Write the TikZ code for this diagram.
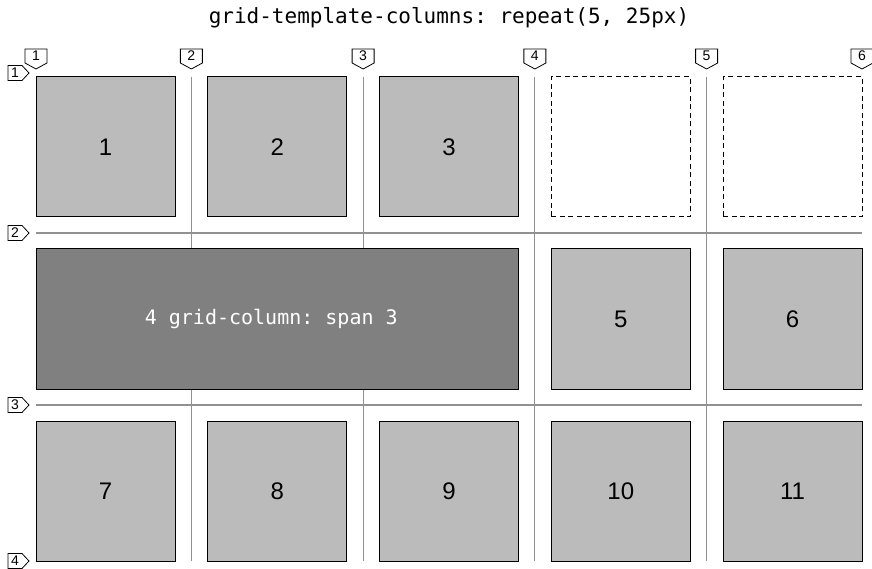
\documentclass[tikz,border=0pt]{standalone}
\usepackage{fontspec}
\setmainfont{Liberation Sans}
\setmonofont{DejaVu Sans Mono}
\usepackage{tikz}
\usetikzlibrary{
  positioning,
  calc,
  backgrounds
}
\definecolor{CellGray}{RGB}{187,187,187}
\definecolor{SpanGray}{RGB}{128,128,128}
\definecolor{LineGray}{RGB}{145,145,145}
\tikzset{
  cell/.style={draw=black,fill=CellGray,line width=1pt,minimum width=139pt,minimum height=140pt,inner sep=0pt,outer sep=0pt,font=\fontsize{24}{28}\selectfont},
  emptycell/.style={cell,fill=white,dash pattern=on 5pt off 3.5pt},
  spancell/.style={cell,fill=SpanGray,minimum width=482.5pt,text=white,font=\ttfamily\fontsize{20}{24}\selectfont},
  gridline/.style={draw=LineGray,line width=1.2pt},
  colmark/.style={minimum width=22pt,minimum height=14pt,inner sep=0pt,outer sep=0pt,font=\fontsize{14}{14}\selectfont},
  rowmark/.style={minimum width=14pt,minimum height=15pt,inner sep=0pt,outer sep=0pt,font=\fontsize{14}{14}\selectfont},
  markline/.style={draw=black,line width=0.8pt,line join=miter},
  title/.style={font=\ttfamily\fontsize{21}{24}\selectfont}
}

\begin{document}
\begin{tikzpicture}[x=1pt,y=-1pt,node distance=32pt and 32.75pt]
\useasboundingbox (0,0) rectangle (872,569);
\node[title] (head) at (449,18) {grid-template-columns: repeat(5, 25px)};
% row 1
\node[cell] (c1) at (105.5,147) {1};
\node[cell, right=of c1] (c2) {2};
\node[cell, right=of c2] (c3) {3};
\node[emptycell, right=of c3] (e4) {};
\node[emptycell, right=of e4] (e5) {};
% row 2
\node[spancell, below=of c1.south west, anchor=north west] (s4) {4 grid-column: span 3\kern12pt};
\node[cell, below=of e4] (c5) {5};
\node[cell, below=of e5] (c6) {6};
% row 3
\node[cell, below=of s4.south west, anchor=north west] (c7) {7};
\node[cell, right=of c7] (c8) {8};
\node[cell, right=of c8] (c9) {9};
\node[cell, right=of c9] (c10) {10};
\node[cell, right=of c10] (c11) {11};
% grid lines
\coordinate (v1) at (c1.north west);
\coordinate (v6) at (e5.north east);
\coordinate (h1) at ([yshift=4pt]c1.north west);
\coordinate (h2) at ($(c1.south west)!.5!(s4.north west)$);
\coordinate (h3) at ($(s4.south west)!.5!(c7.north west)$);
\coordinate (h4) at (c7.south west);
\begin{scope}[on background layer]
\foreach \a/\b/\c/\d/\n in {c1/c2/c7/c8/2, c2/c3/c8/c9/3, c3/e4/c9/c10/4, e4/e5/c10/c11/5}{
  \coordinate (v\n) at ($(\a.north east)!.5!(\b.north west)$);
  \draw[gridline] (v\n) -- ($(\c.south east)!.5!(\d.south west)$);
}
\draw[gridline] (h2) -- ($(e5.south east)!.5!(c6.north east)$);
\draw[gridline] (h3) -- ($(c6.south east)!.5!(c11.north east)$);
\end{scope}
% line numbers
\foreach \n in {1,...,6}{
  \node[colmark, anchor=south] (k\n) at ([yshift=14pt]v\n) {\n};
  \draw[markline] (k\n.south west) -- (k\n.north west) -- (k\n.north east)
    -- (k\n.south east) -- ([yshift=-6pt]k\n.south) -- cycle;
}
\foreach \n in {1,...,4}{
  \node[rowmark, anchor=east] (r\n) at ([xshift=-14pt]h\n) {\n};
  \draw[markline] (r\n.north east) -- (r\n.north west) -- (r\n.south west)
    -- (r\n.south east) -- ([xshift=7pt]r\n.east) -- cycle;
}
\end{tikzpicture}
\end{document}
